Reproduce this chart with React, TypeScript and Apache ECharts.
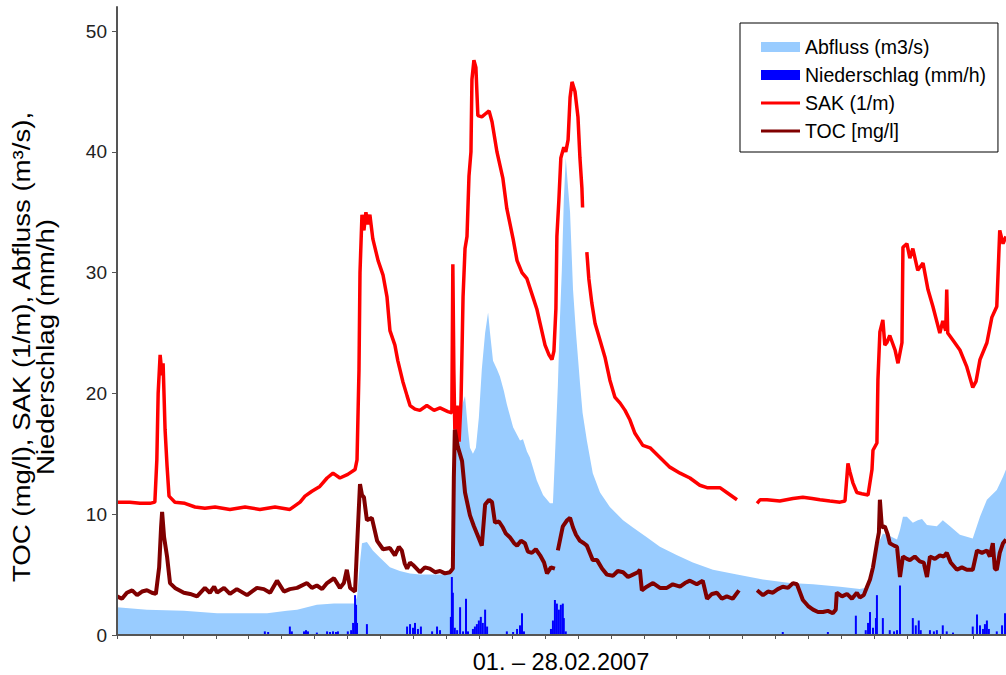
import React, { useEffect, useRef } from "react";
import * as echarts from "echarts";

const FONT = "'Liberation Sans', Arial, sans-serif";

const xAxisTitle = "01. – 28.02.2007";
const yAxisTitle = ["TOC (mg/l), SAK (1/m), Abfluss (m³/s),", "Niederschlag (mm/h)"];
const yTickValues = [0, 10, 20, 30, 40, 50];
const seriesNames = ["Abfluss (m3/s)", "Niederschlag (mm/h)", "SAK (1/m)", "TOC [mg/l]"];

// [day since 01.02., m3/s]
const abflussData: [number, number][] = [
  [0, 2.3], [0.91, 2.1], [2.03, 2.0], [3.04, 1.8], [4.56, 1.8], [5.16, 2.0], [5.47, 2.1], [5.77, 2.3],
  [6.07, 2.5], [6.59, 2.6], [7.2, 2.6], [7.29, 3.1], [7.38, 6.0], [7.44, 7.6], [7.59, 7.7], [7.77, 7.0],
  [7.99, 6.4], [8.29, 5.6], [8.59, 5.3], [8.9, 5.1], [9.2, 5.0], [9.81, 5.0], [10.17, 5.1], [10.23, 12],
  [10.29, 17], [10.39, 18.5], [10.48, 19.0], [10.57, 19.8], [10.66, 17], [10.72, 15.5], [10.81, 15.0],
  [10.9, 15.5], [10.99, 18], [11.08, 22], [11.18, 25], [11.27, 26.7], [11.33, 25], [11.42, 22.7],
  [11.54, 22], [11.63, 21.4], [11.75, 20.2], [11.84, 19.1], [12.03, 17.2], [12.24, 16.1], [12.33, 16.2],
  [12.45, 15.2], [12.54, 14.7], [12.75, 12.8], [12.94, 11.6], [13.15, 10.9], [13.24, 10.9], [13.3, 14.7],
  [13.39, 20.7], [13.45, 26], [13.51, 30.2], [13.57, 36], [13.63, 39.5], [13.7, 37], [13.76, 35],
  [13.85, 28.6], [13.94, 25], [14.06, 20.9], [14.14, 18.4], [14.27, 16.1], [14.45, 13.4], [14.67, 11.8],
  [14.97, 10.6], [15.37, 9.5], [15.67, 8.9], [16.09, 8.1], [16.49, 7.3], [17.01, 6.6], [17.49, 6.0],
  [18.1, 5.4], [18.83, 5.0], [19.62, 4.6], [20.44, 4.3], [21.14, 4.2], [21.96, 4.0], [22.56, 3.8],
  [22.71, 3.9], [22.87, 4.8], [22.99, 6.2], [23.08, 7.3], [23.26, 8.4], [23.47, 8.2], [23.69, 7.9],
  [23.78, 8.7], [23.87, 9.8], [23.99, 9.8], [24.17, 9.3], [24.32, 9.5], [24.45, 9.6], [24.6, 9.1],
  [24.9, 9.0], [25.08, 9.5], [25.3, 9.0], [25.6, 8.3], [25.99, 8.0], [26.21, 9.8], [26.42, 11.2],
  [26.72, 12.0], [26.91, 13.1], [27, 13.7],
];

// [day, mm/h]
const niederschlagData: [number, number][] = [
  [4.49, 0.3], [4.59, 0.25], [5.25, 0.7], [5.31, 0.3], [5.68, 0.3], [5.74, 0.4], [5.8, 0.3], [6.07, 0.2],
  [6.38, 0.3], [6.47, 0.25], [6.56, 0.3], [6.65, 0.25], [6.71, 0.3], [7.01, 0.3], [7.11, 0.4], [7.17, 1.0],
  [7.23, 3.3], [7.26, 2.5], [7.29, 1.0], [7.59, 0.9], [8.81, 0.7], [8.9, 0.9], [8.99, 0.6], [9.05, 1.0],
  [9.14, 0.5], [9.23, 0.7], [9.57, 0.3], [9.72, 0.7], [9.81, 0.4], [10.14, 1.5], [10.17, 4.8], [10.2, 3.5],
  [10.26, 0.6], [10.33, 0.4], [10.42, 2.3], [10.51, 0.3], [10.6, 3.0], [10.66, 0.3], [10.81, 0.5],
  [10.87, 0.7], [10.93, 0.9], [10.99, 1.2], [11.05, 1.5], [11.11, 1.0], [11.18, 2.1], [11.24, 0.7],
  [11.84, 0.3], [12.03, 0.25], [12.15, 0.5], [12.24, 0.8], [12.3, 1.8], [12.36, 0.3], [13.18, 0.5],
  [13.24, 1.2], [13.3, 2.9], [13.36, 2.6], [13.42, 2.1], [13.48, 2.5], [13.54, 2.6], [13.57, 1.4],
  [13.63, 0.3], [20.22, 0.25], [21.59, 0.25], [22.44, 1.6], [22.74, 0.4], [22.81, 1.0], [22.87, 1.9],
  [22.96, 0.6], [23.05, 1.4], [23.08, 3.3], [23.26, 1.4], [23.47, 0.4], [23.6, 0.3], [23.69, 0.4],
  [23.78, 4.1], [24.17, 1.4], [24.26, 0.8], [24.35, 1.2], [24.41, 0.4], [24.69, 0.4], [24.81, 0.3],
  [24.9, 0.4], [25.08, 0.8], [25.2, 0.3], [25.39, 0.2], [25.99, 0.7], [26.12, 1.7], [26.21, 0.8],
  [26.3, 0.5], [26.36, 0.9], [26.42, 1.2], [26.48, 0.5], [26.72, 0.3], [26.88, 0.8], [26.97, 1.8],
];

// [day, 1/m]  (null = gap in the record)
const sakData: [number, number | null][] = [
  [0, 11.0], [0.39, 11.0], [0.7, 10.9], [1.0, 10.9], [1.15, 11.0], [1.21, 14.5], [1.25, 20], [1.31, 23.2],
  [1.37, 21.5], [1.4, 22.5], [1.46, 17], [1.52, 14], [1.58, 11.5], [1.76, 11.0], [2.06, 10.9], [2.37, 10.6],
  [2.67, 10.5], [2.98, 10.6], [3.43, 10.4], [3.89, 10.6], [4.34, 10.4], [4.8, 10.6], [5.25, 10.4],
  [5.56, 11.0], [5.71, 11.5], [5.92, 11.9], [6.16, 12.3], [6.38, 13.0], [6.56, 13.4], [6.77, 13.0],
  [7.01, 13.3], [7.23, 13.7], [7.29, 14.5], [7.35, 22], [7.38, 30], [7.44, 34.8], [7.5, 33.5], [7.56, 35],
  [7.62, 34], [7.68, 34.8], [7.77, 32.8], [7.93, 31], [8.08, 29.8], [8.2, 28], [8.29, 25.2], [8.44, 24],
  [8.53, 22.7], [8.68, 21], [8.81, 19.8], [8.9, 19.0], [9.05, 18.7], [9.2, 18.6], [9.41, 19.0],
  [9.63, 18.6], [9.81, 18.8], [10.05, 18.5], [10.17, 18.4], [10.2, 30.7], [10.23, 22], [10.26, 17],
  [10.33, 19], [10.39, 16], [10.45, 19.5], [10.51, 28], [10.57, 32], [10.63, 33], [10.69, 38], [10.75, 40],
  [10.78, 46], [10.84, 47.6], [10.9, 47], [10.96, 43], [11.08, 42.9], [11.21, 43.2], [11.3, 43.4],
  [11.39, 42.5], [11.54, 40], [11.72, 37.8], [11.84, 35.3], [12.03, 32.8], [12.15, 31], [12.3, 30],
  [12.45, 29.5], [12.63, 28], [12.75, 27], [12.85, 25.8], [13.0, 24], [13.12, 23.2], [13.21, 22.8],
  [13.27, 23.5], [13.33, 27], [13.36, 33], [13.42, 36], [13.48, 39.5], [13.57, 40.4], [13.63, 40],
  [13.7, 41], [13.76, 44.5], [13.82, 45.8], [13.91, 45], [14.0, 42.9], [14.06, 39.5], [14.12, 37],
  [14.14, 35.4], [14.2, null], [14.27, 31.7], [14.33, 29.5], [14.42, 27.5], [14.52, 25.8], [14.67, 24.4],
  [14.82, 23], [14.97, 21.1], [15.12, 19.7], [15.28, 19.2], [15.43, 18.6], [15.58, 17.8], [15.73, 16.7],
  [15.97, 15.7], [16.19, 15.5], [16.49, 14.7], [16.79, 13.9], [17.1, 13.4], [17.4, 13.0], [17.7, 12.4],
  [17.92, 12.2], [18.31, 12.2], [18.52, 11.8], [18.83, 11.2], [19.1, null], [19.44, 10.9], [19.53, 11.2],
  [19.74, 11.2], [20.13, 11.1], [20.53, 11.3], [20.83, 11.4], [21.11, 11.3], [21.35, 11.2], [21.65, 11.1],
  [21.96, 11.0], [22.11, 11.1], [22.2, 14.2], [22.26, 13.5], [22.35, 12.6], [22.47, 11.8], [22.62, 11.7],
  [22.81, 11.6], [22.93, 13.7], [22.96, 15.3], [23.08, 15.9], [23.11, 21.1], [23.17, 25.1], [23.26, 26.1],
  [23.32, 24], [23.38, 24.2], [23.47, 24.8], [23.63, 23.6], [23.72, 22.5], [23.84, 24.2], [23.87, 32.1],
  [23.99, 32.4], [24.08, 31.2], [24.17, 32], [24.32, 30.2], [24.48, 30.8], [24.63, 28.6], [24.78, 27.2],
  [24.99, 25], [25.08, 26], [25.17, 25.2], [25.2, 28.6], [25.23, 25], [25.39, 24.4], [25.6, 23.6],
  [25.81, 22.2], [25.99, 20.5], [26.09, 21], [26.21, 22.8], [26.42, 24.2], [26.57, 26.3], [26.72, 27.2],
  [26.81, 33.5], [26.91, 32.4], [27, 33],
];

// [day, mg/l]  (null = gap in the record)
const tocData: [number, number | null][] = [
  [0, 3.2], [0.15, 3.0], [0.3, 3.5], [0.46, 3.7], [0.61, 3.3], [0.76, 3.6], [0.91, 3.7], [1.06, 3.5],
  [1.18, 3.4], [1.28, 5.6], [1.34, 9.0], [1.37, 10.2], [1.43, 8.1], [1.52, 6.5], [1.61, 4.3], [1.76, 3.9],
  [2.03, 3.5], [2.22, 3.4], [2.43, 3.2], [2.67, 3.9], [2.82, 3.5], [2.95, 4.0], [3.04, 3.5], [3.25, 3.9],
  [3.43, 3.4], [3.64, 3.8], [3.95, 3.3], [4.25, 3.9], [4.46, 3.8], [4.65, 3.5], [4.86, 4.5], [5.07, 3.6],
  [5.25, 3.8], [5.47, 3.9], [5.77, 4.3], [5.92, 3.9], [6.07, 4.1], [6.23, 3.8], [6.38, 4.3], [6.59, 4.7],
  [6.77, 3.9], [6.89, 4.3], [6.98, 5.4], [7.08, 3.9], [7.23, 3.6], [7.29, 7.3], [7.38, 12.5], [7.44, 11.6],
  [7.5, 11.4], [7.59, 9.5], [7.74, 9.7], [7.9, 7.8], [8.08, 7.1], [8.29, 7.2], [8.44, 6.6], [8.56, 7.3],
  [8.65, 7.0], [8.74, 5.9], [8.81, 5.5], [8.9, 6.0], [8.99, 5.8], [9.2, 5.2], [9.35, 5.6], [9.5, 5.5],
  [9.66, 5.2], [9.81, 5.3], [9.96, 5.1], [10.11, 5.2], [10.2, 5.5], [10.23, 13], [10.26, 17], [10.35, 15.6],
  [10.48, 14.4], [10.57, 11.8], [10.72, 9.9], [10.84, 9.0], [10.93, 8.4], [11.08, 7.4], [11.18, 10.8],
  [11.3, 11.2], [11.39, 11.0], [11.48, 9.3], [11.6, 9.4], [11.72, 8.9], [11.81, 8.4], [11.93, 8.1],
  [12.06, 7.6], [12.15, 7.4], [12.27, 7.8], [12.39, 7.6], [12.48, 6.9], [12.6, 6.8], [12.72, 7.1],
  [12.85, 6.6], [12.97, 6.0], [13.06, 5.1], [13.18, 5.6], [13.3, 5.5], [13.34, null], [13.39, 7.0],
  [13.48, 8.2], [13.54, 9.0], [13.67, 9.5], [13.76, 9.7], [13.85, 8.9], [13.94, 8.3], [14.06, 7.8],
  [14.18, 7.6], [14.27, 7.4], [14.36, 6.8], [14.45, 6.2], [14.58, 6.2], [14.73, 5.5], [14.88, 5.0],
  [15.06, 4.9], [15.21, 5.3], [15.37, 5.2], [15.52, 4.8], [15.67, 5.0], [15.82, 5.2], [15.88, 5.4],
  [15.94, 3.7], [16.09, 4.0], [16.28, 4.3], [16.49, 3.9], [16.7, 3.9], [16.88, 4.2], [17.1, 4.0],
  [17.25, 4.3], [17.4, 4.5], [17.61, 4.2], [17.79, 4.5], [17.92, 3.0], [18.07, 3.4], [18.22, 3.5],
  [18.37, 3.0], [18.52, 3.2], [18.7, 3.0], [18.89, 3.7], [19.1, null], [19.44, 3.7], [19.62, 3.3],
  [19.77, 3.6], [19.92, 3.5], [20.07, 3.8], [20.22, 4.0], [20.38, 3.9], [20.53, 4.3], [20.65, 4.2],
  [20.83, 2.9], [20.99, 2.4], [21.14, 2.1], [21.29, 1.9], [21.44, 1.9], [21.59, 2.0], [21.74, 1.8],
  [21.83, 2.1], [21.86, 3.5], [22.02, 3.2], [22.17, 3.4], [22.32, 3.0], [22.47, 3.5], [22.56, 3.1],
  [22.68, 3.3], [22.78, 4.0], [22.87, 4.6], [22.96, 5.6], [23.08, 7.6], [23.14, 8.5], [23.17, 11.2],
  [23.23, 8.9], [23.32, 9.0], [23.41, 8.3], [23.47, 7.6], [23.6, 7.4], [23.69, 7.3], [23.78, 4.8],
  [23.87, 6.5], [23.99, 6.3], [24.08, 6.2], [24.23, 6.5], [24.38, 6.1], [24.5, 6.0], [24.6, 4.8],
  [24.69, 6.5], [24.84, 6.3], [24.99, 6.6], [25.11, 6.5], [25.2, 6.8], [25.32, 6.0], [25.51, 5.4],
  [25.66, 5.6], [25.81, 5.4], [25.99, 5.4], [26.12, 7.0], [26.27, 6.8], [26.42, 7.0], [26.51, 6.5],
  [26.6, 7.6], [26.66, 5.5], [26.72, 5.4], [26.81, 6.8], [26.91, 7.6], [27, 7.9],
];

const AXIS_COLOR = "#555555";
const LINE_ICON = "path://M0,0L39,0L39,3L0,3Z";

function buildOption(): echarts.EChartsOption {
  return {
    animation: false,
    backgroundColor: "#ffffff",
    textStyle: { fontFamily: FONT },
    grid: { left: 117, right: 0, top: 7, bottom: 40 },
    xAxis: {
      type: "value",
      min: 0,
      max: 27,
      interval: 1,
      z: 10,
      axisLine: { show: true, lineStyle: { color: AXIS_COLOR, width: 2 } },
      axisTick: { show: true, length: 4, lineStyle: { color: AXIS_COLOR, width: 1 } },
      axisLabel: { show: false },
      splitLine: { show: false },
    },
    yAxis: {
      type: "value",
      min: 0,
      max: 52,
      interval: 10,
      z: 10,
      axisLine: { show: true, lineStyle: { color: AXIS_COLOR, width: 2 } },
      axisTick: { show: true, length: 5, customValues: yTickValues, lineStyle: { color: AXIS_COLOR, width: 1 } },
      axisLabel: { customValues: yTickValues, fontSize: 19, color: "#222", margin: 10, fontFamily: FONT },
      splitLine: { show: false },
    },
    legend: {
      left: 740,
      top: 23,
      orient: "vertical",
      borderColor: "#000",
      borderWidth: 1,
      borderRadius: 0,
      padding: [14, 12, 11, 21],
      itemWidth: 39,
      itemHeight: 10,
      itemGap: 8,
      selectedMode: false,
      textStyle: { fontSize: 19.5, color: "#000", fontFamily: FONT, lineHeight: 19 },
      data: [
        { name: seriesNames[0], icon: "rect" },
        { name: seriesNames[1], icon: "rect" },
        { name: seriesNames[2], icon: LINE_ICON },
        { name: seriesNames[3], icon: LINE_ICON },
      ],
    },
    graphic: [
      {
        type: "text",
        x: 34,
        y: 347,
        rotation: Math.PI / 2,
        scaleX: 1.15,
        style: {
          text: yAxisTitle.join("\n"),
          fontSize: 24,
          fontFamily: FONT,
          fill: "#000",
          align: "center",
          verticalAlign: "middle",
          lineHeight: 24,
        },
      },
      {
        type: "text",
        x: 561,
        y: 662,
        style: {
          text: xAxisTitle,
          fontSize: 23.5,
          fontFamily: FONT,
          fill: "#000",
          align: "center",
          verticalAlign: "middle",
        },
      },
    ],
    series: [
      {
        name: seriesNames[0],
        type: "line",
        data: abflussData,
        symbol: "none",
        color: "#99CCFF",
        lineStyle: { width: 0 },
        areaStyle: { color: "#99CCFF", opacity: 1 },
        z: 1,
      },
      {
        name: seriesNames[1],
        type: "bar",
        data: niederschlagData,
        barWidth: 2,
        color: "#0000FF",
        z: 2,
      },
      {
        name: seriesNames[2],
        type: "line",
        data: sakData,
        symbol: "none",
        color: "#FF0000",
        lineStyle: { width: 3.5 },
        z: 3,
      },
      {
        name: seriesNames[3],
        type: "line",
        data: tocData,
        symbol: "none",
        color: "#800000",
        lineStyle: { width: 4 },
        z: 4,
      },
    ],
  };
}

export default function App() {
  const ref = useRef<HTMLDivElement>(null);
  useEffect(() => {
    if (!ref.current) return;
    const chart = echarts.init(ref.current, undefined, { renderer: "svg" });
    chart.setOption(buildOption());
    return () => chart.dispose();
  }, []);
  return (
    <div
      ref={ref}
      style={{ position: "fixed", left: 0, top: 0, width: 1006, height: 675, background: "#fff" }}
    />
  );
}
